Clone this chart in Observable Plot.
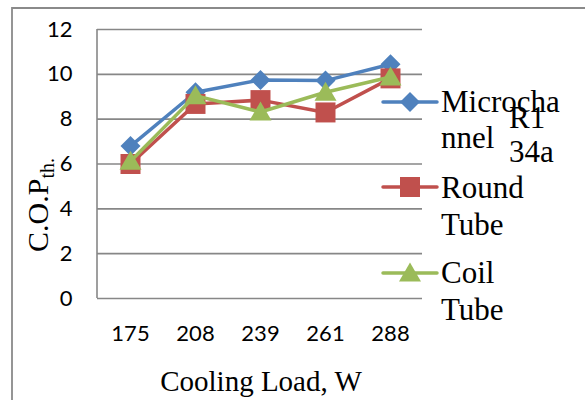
<!DOCTYPE html>
<html>
<head>
<meta charset="utf-8">
<script src="https://cdn.jsdelivr.net/npm/d3@7"></script>
<script src="https://cdn.jsdelivr.net/npm/@observablehq/plot@0.6"></script>
<style>
  html, body { margin: 0; padding: 0; background: #fff; }
  #chart { width: 585px; height: 400px; position: relative; overflow: hidden; }
</style>
</head>
<body>
<div id="chart"></div>
<script>
// ---- data ----
const categories = ["175", "208", "239", "261", "288"];
const microchannel = [6.8, 9.2, 9.75, 9.72, 10.45];
const roundTube = [6.0, 8.68, 8.85, 8.3, 9.82];
const coilTube = [6.12, 9.05, 8.32, 9.2, 9.88];
const seriesNames = ["Microchannel", "Round Tube", "Coil Tube"];
const legendLabels = [["Microcha", "nnel"], ["Round", "Tube"], ["Coil", "Tube"]];
const legendTitle = ["R1", "34a"];
const yTicks = [0, 2, 4, 6, 8, 10, 12];
const colors = ["#4F81BD", "#C0504D", "#9BBB59"];
const xTitle = "Cooling Load, W";

const seriesValues = [microchannel, roundTube, coilTube];
const rows = seriesValues.flatMap((vals, i) =>
  vals.map((v, j) => ({series: seriesNames[i], load: categories[j], cop: v})));

// custom Excel-like marker shapes
const diamond = {draw(ctx) { const h = 10; ctx.moveTo(0, -h); ctx.lineTo(h, 0); ctx.lineTo(0, h); ctx.lineTo(-h, 0); ctx.closePath(); }};
const square = {draw(ctx) { const h = 10; ctx.rect(-h, -h, 2 * h, 2 * h); }};
const triangle = {draw(ctx) { ctx.moveTo(0, -10.5); ctx.lineTo(11, 8.5); ctx.lineTo(-11, 8.5); ctx.closePath(); }};
const symbols = [diamond, square, triangle];

const M = {left: 97, right: 163, top: 29, bottom: 102};

const seriesMarks = seriesNames.flatMap((name, i) => {
  const d = rows.filter(r => r.series === name);
  return [
    Plot.line(d, {x: "load", y: "cop", stroke: colors[i], strokeWidth: 3.5, strokeLinejoin: "round", strokeLinecap: "round"}),
    Plot.dot(d, {x: "load", y: "cop", symbol: symbols[i], fill: colors[i], stroke: "none", r: 5})
  ];
});

const plot = Plot.plot({
  width: 585,
  height: 400,
  marginLeft: M.left,
  marginRight: M.right,
  marginTop: M.top,
  marginBottom: M.bottom,
  style: {fontFamily: "Lato, 'Open Sans', sans-serif", fontSize: "22px", background: "#fff", color: "#000", overflow: "visible"},
  x: {type: "point", domain: categories, padding: 0.5, label: null, tickSize: 0, tickPadding: 27},
  y: {domain: [0, 12], ticks: yTicks, label: null, tickSize: 0, tickPadding: 25, tickFormat: d => String(d)},
  marks: [
    Plot.ruleY(yTicks, {stroke: "#878787", strokeWidth: 1.6}),
    ...seriesMarks
  ]
});

document.getElementById("chart").appendChild(plot);

// ---- decorations (frame, axis line, titles, legend) ----
const svg = d3.select(plot);
const ys = plot.scale("y");
const yTop = ys.apply(12), yBot = ys.apply(0);

// outer chart border (left and top edges visible)
svg.append("path").attr("d", "M12,400V8H585").attr("fill", "none").attr("stroke", "#8a8a8a").attr("stroke-width", 1.8);
// vertical axis line
svg.append("line").attr("x1", M.left).attr("x2", M.left).attr("y1", yTop).attr("y2", yBot)
  .attr("stroke", "#878787").attr("stroke-width", 1.6);

const serif = "'Liberation Serif', 'Times New Roman', serif";

// x title
svg.append("text").attr("x", 261).attr("y", 391).attr("text-anchor", "middle")
  .attr("font-family", serif).attr("font-size", 29).attr("fill", "#000").text(xTitle);

// y title (rotated) with subscript
const yt = svg.append("text").attr("transform", "translate(48,205) rotate(-90)")
  .attr("text-anchor", "middle").attr("font-family", serif).attr("font-size", 30).attr("fill", "#000");
yt.append("tspan").text("C.O.P");
yt.append("tspan").attr("font-size", 20).attr("dy", 6).text("th.");

// legend
const legY = [102, 187, 273];
const textBase = [[112, 148], [198, 235], [283, 320]];
const lg = svg.append("g").attr("text-anchor", "start");
seriesNames.forEach((name, i) => {
  lg.append("line").attr("x1", 383).attr("x2", 437).attr("y1", legY[i]).attr("y2", legY[i])
    .attr("stroke", colors[i]).attr("stroke-width", 3.5).attr("stroke-linecap", "round");
  lg.append("path").attr("transform", `translate(410,${legY[i]})`)
    .attr("d", d3.symbol().type(symbols[i])()).attr("fill", colors[i]);
  legendLabels[i].forEach((t, k) => {
    lg.append("text").attr("x", 441).attr("y", textBase[i][k]).attr("font-family", serif)
      .attr("text-anchor", "start").attr("font-size", 31).attr("fill", "#000").text(t);
  });
});
legendTitle.forEach((t, k) => {
  lg.append("text").attr("x", 509).attr("y", [128, 162][k]).attr("font-family", serif)
    .attr("text-anchor", "start").attr("font-size", 31).attr("fill", "#000").text(t);
});
</script>
</body>
</html>
